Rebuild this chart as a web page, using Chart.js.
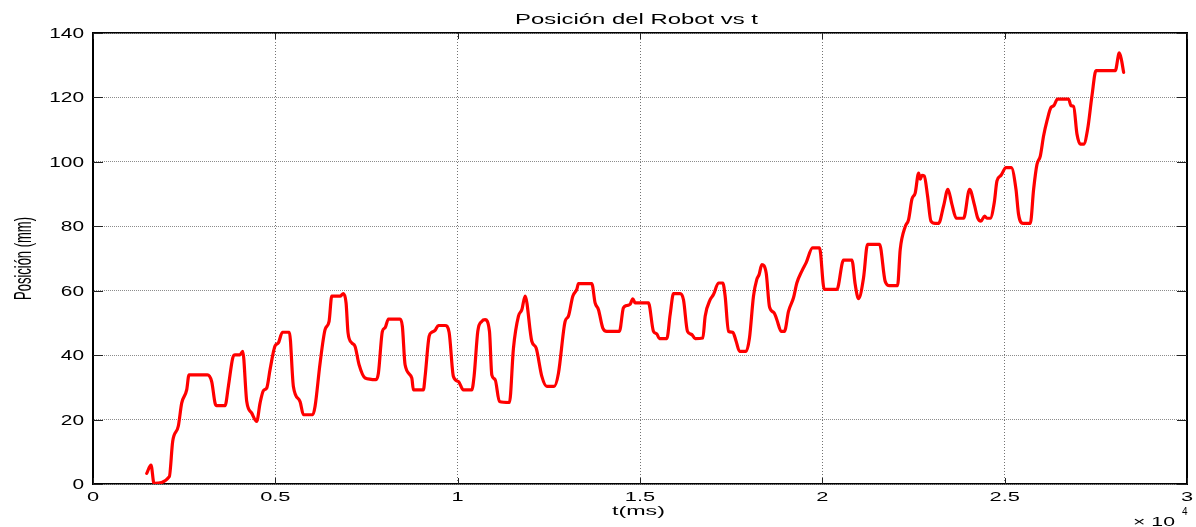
<!DOCTYPE html>
<html><head><meta charset="utf-8">
<script src="https://cdn.jsdelivr.net/npm/chart.js@4/dist/chart.umd.min.js"></script>
<style>html,body{margin:0;padding:0;background:#fff;overflow:hidden}canvas{display:block}</style>
</head><body>
<canvas id="c" width="1196" height="527"></canvas>
<script>
const chartTitle = 'Posición del Robot vs t';
const xAxisTitle = 't(ms)';
const yAxisTitle = 'Posición (mm)';
const xMultiplier = '× 10';
const xExponent = '4';

const xTicks = [0, 5000, 10000, 15000, 20000, 25000, 30000];
const xTickLabels = ['0', '0.5', '1', '1.5', '2', '2.5', '3'];
const yTicks = [0, 20, 40, 60, 80, 100, 120, 140];
const yTickLabels = ['0', '20', '40', '60', '80', '100', '120', '140'];

const timeMs = [1473,1591,1673,2093,2185,2340,2432,2569,2633,3136,3255,3347,3390,3621,3712,3831,3895,4032,4106,4216,4353,4490,4581,4673,4764,4855,4992,5083,5193,5385,5495,5678,5770,6026,6090,6227,6364,6474,6547,6775,6866,6940,6994,7096,7187,7297,7461,7763,7826,7936,8010,8101,8421,8484,8558,8742,8786,9060,9107,9217,9290,9381,9472,9655,9765,9883,10020,10157,10387,10450,10552,10662,10753,10872,10936,11027,11145,11420,11530,11667,11759,11850,12033,12152,12308,12445,12646,12764,12947,13038,13157,13267,13312,13678,13769,13861,13980,14089,14436,14546,14640,14730,14803,14867,15232,15369,15460,15534,15735,15827,15918,16101,16192,16302,16420,16512,16723,16787,16924,17015,17152,17271,17335,17426,17545,17636,17728,17911,18002,18112,18203,18266,18341,18460,18551,18680,18753,18871,18962,19072,19209,19301,19438,19557,19731,19923,20052,20399,20581,20811,20902,20993,21130,21240,21569,21724,21843,22063,22136,22273,22365,22457,22548,22640,22686,22731,22795,22886,22978,23096,23188,23325,23444,23554,23673,23874,24038,24167,24257,24350,24449,24514,24605,24714,24789,24899,25036,25181,25310,25381,25502,25703,25794,25886,25977,26068,26160,26270,26343,26451,26753,26819,26891,26983,27074,27166,27275,27394,27504,28033,28143,28198,28262];
const positionMm = [3.3,5.9,0.2,2.3,13.2,18,25.1,29.2,33.9,33.9,31.8,25.1,24.3,24.3,30.3,39.1,40.1,40.1,41.2,25.6,22,19.4,25.1,29,29.8,35.5,42.9,43.8,47.1,47.1,30.3,25.6,21.5,21.5,24.1,37.5,47.9,50.5,58.3,58.3,59.1,56.2,46.9,43.8,42.7,37,32.9,32.4,34.4,47.4,48.5,51.2,51.2,48.9,37,32.9,29.2,29.2,33.4,45.8,47.1,47.7,49.2,49.2,47.1,33.4,31.8,29.2,29.2,33.4,47.4,50.5,51,47.4,33.9,32.4,25.6,25.3,42.2,52.1,54.1,58.3,44.3,42.2,33.4,30.3,30.3,34.4,50.5,52.1,58.3,60.4,62.2,62.2,56.2,54.1,48.4,47.4,47.4,54.7,55.4,55.8,57.5,56.2,56.2,47.4,46.6,45.1,45.1,52.6,59.1,59.1,57.2,47.4,46.4,45.1,45.3,52.1,57.2,58.8,62.4,62.4,58.3,47.4,47.1,44.3,41.2,41.2,45.3,58.3,63.5,65,68.1,65.5,55,53.1,51,47.4,47.4,53.6,57.8,62.4,66.1,68.7,73.3,73.3,60.4,60.4,69.5,69.5,61.9,57.5,64,74.4,74.4,62.9,61.6,61.6,72.8,79.9,82.1,88.4,90.4,96.5,94.6,95.8,95.6,89.4,81.6,80.9,80.9,86.3,91.5,86.8,82.5,82.5,91.5,86.8,82.7,81.6,83.2,82.5,82.5,87.3,94.1,95.8,98.2,98.2,91.5,83.7,80.9,80.9,91.5,99.2,101.8,108.1,112.7,116.9,117.4,119.5,119.5,117.4,117.2,108.6,105.5,105.5,110.1,120.5,128.3,128.3,133.8,131.9,127.8];

const FONT = '"Liberation Sans", Arial, Helvetica, sans-serif';

function stretchText(ctx, text, x, y, size, sx, align) {
  ctx.save();
  ctx.font = size + 'px ' + FONT;
  ctx.textBaseline = 'alphabetic';
  ctx.textAlign = 'left';
  const w = ctx.measureText(text).width * sx;
  const x0 = align === 'center' ? x - w / 2 : (align === 'right' ? x - w : x);
  ctx.translate(x0, y);
  ctx.scale(sx, 1);
  ctx.fillStyle = '#000';
  ctx.fillText(text, 0, 0);
  ctx.restore();
}
function widthText(ctx, text, x, y, size, targetW, align) {
  ctx.save();
  ctx.font = size + 'px ' + FONT;
  const sx = targetW / ctx.measureText(text).width;
  ctx.restore();
  stretchText(ctx, text, x, y, size, sx, align);
}

const decorPlugin = {
  id: 'decor',
  afterDraw(chart) {
    const ctx = chart.ctx;
    const xs = chart.scales.x, ys = chart.scales.y;
    const a = chart.chartArea;
    ctx.save();
    ctx.strokeStyle = '#222';
    ctx.lineWidth = 1;
    ctx.beginPath();
    yTicks.forEach(v => {
      const py = Math.round(ys.getPixelForValue(v)) + 0.5;
      ctx.moveTo(a.left, py); ctx.lineTo(a.left + 10, py);
      ctx.moveTo(a.right, py); ctx.lineTo(a.right - 10, py);
    });
    xTicks.forEach(v => {
      const px = Math.round(xs.getPixelForValue(v)) + 0.5;
      ctx.moveTo(px, a.bottom); ctx.lineTo(px, a.bottom - 6);
      ctx.moveTo(px, a.top); ctx.lineTo(px, a.top + 6);
    });
    ctx.stroke();
    ctx.restore();
    yTicks.forEach((v, i) => {
      stretchText(ctx, yTickLabels[i], 84, ys.getPixelForValue(v) + 5, 14, 1.49, 'right');
    });
    xTicks.forEach((v, i) => {
      stretchText(ctx, xTickLabels[i], xs.getPixelForValue(v), 501, 13, 1.68, 'center');
    });
    widthText(ctx, chartTitle, 636.5, 24, 15, 243, 'center');
    widthText(ctx, xAxisTitle, 638.5, 515, 12, 53, 'center');
    widthText(ctx, xMultiplier, 1133, 526, 12, 42, 'left');
    stretchText(ctx, xExponent, 1182, 515, 10, 1, 'left');
    ctx.save();
    ctx.font = '14px ' + FONT;
    const w = ctx.measureText(yAxisTitle).width;
    const sAlong = 83 / w;
    ctx.translate(31, 258.5);
    ctx.rotate(-Math.PI / 2);
    ctx.scale(sAlong, 1.7);
    ctx.fillStyle = '#000';
    ctx.textBaseline = 'alphabetic';
    ctx.textAlign = 'center';
    ctx.fillText(yAxisTitle, 0, 0);
    ctx.restore();
  }
};

const points = timeMs.map((t, i) => ({ x: t, y: positionMm[i] }));

new Chart(document.getElementById('c'), {
  type: 'line',
  data: { datasets: [{
    data: points,
    borderColor: '#ff0000',
    borderWidth: 3.2,
    pointRadius: 0,
    cubicInterpolationMode: 'monotone',
    fill: false,
    borderJoinStyle: 'round',
    borderCapStyle: 'round'
  }]},
  options: {
    responsive: false,
    animation: false,
    devicePixelRatio: 1,
    layout: { padding: { left: 93, right: 9, top: 33, bottom: 43 } },
    plugins: { legend: { display: false }, tooltip: { enabled: false }, title: { display: false } },
    scales: {
      x: {
        type: 'linear', min: 0, max: 30000, position: 'bottom',
        afterBuildTicks: s => { s.ticks = xTicks.map(v => ({ value: v })); },
        ticks: { display: false },
        grid: { drawTicks: false, color: 'rgba(0,0,0,0.55)', lineWidth: 1 },
        border: { display: true, color: '#000', width: 1.5, dash: [1, 2] }
      },
      y: {
        type: 'linear', min: 0, max: 140, position: 'left',
        afterBuildTicks: s => { s.ticks = yTicks.map(v => ({ value: v })); },
        ticks: { display: false },
        grid: { drawTicks: false, color: 'rgba(0,0,0,0.45)', lineWidth: 1 },
        border: { display: true, color: '#000', width: 2, dash: [1, 1] }
      },
      x2: {
        type: 'linear', min: 0, max: 30000, position: 'top', display: true,
        ticks: { display: false },
        grid: { display: false, drawTicks: false },
        border: { display: true, color: '#000', width: 1.5 }
      },
      y2: {
        type: 'linear', min: 0, max: 140, position: 'right', display: true,
        ticks: { display: false },
        grid: { display: false, drawTicks: false },
        border: { display: true, color: '#000', width: 2 }
      }
    }
  },
  plugins: [decorPlugin]
});
</script>
</body></html>
